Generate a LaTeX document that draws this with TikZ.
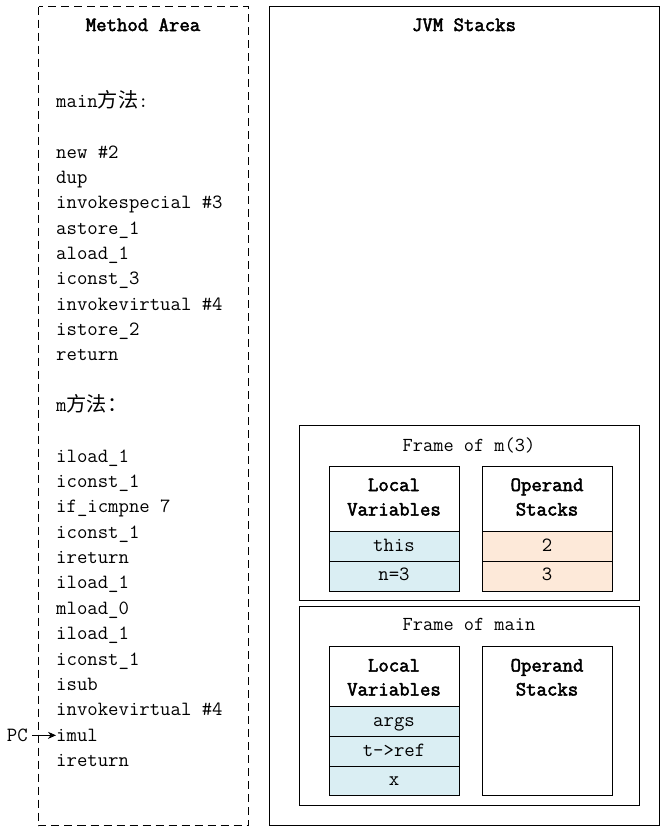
\documentclass[tikz,border=0pt]{standalone}
\usepackage{fontspec}
\setmainfont{Latin Modern Mono}[AutoFakeBold=2.5]
\newfontfamily\cjk{Noto Sans CJK SC}
\usetikzlibrary{arrows.meta}
\definecolor{lvblue}{HTML}{DAEEF3}
\definecolor{oporange}{HTML}{FDE9D9}
\tikzset{
  code/.style={anchor=base west, inner sep=0pt, font=\fontsize{20.2}{24}\selectfont},
  ttl/.style={anchor=base, inner sep=0pt, font=\fontsize{20.2}{24}\selectfont\bfseries},
  ftitle/.style={anchor=base, inner sep=0pt, font=\fontsize{19.8}{24}\selectfont},
  cell/.style={anchor=base, inner sep=0pt, font=\fontsize{20.2}{24}\selectfont},
  hdr/.style={anchor=base, inner sep=0pt, font=\fontsize{20.2}{24}\selectfont\bfseries},
  box/.style={draw=black, line width=1pt},
  arr/.style={-{Stealth[length=8pt,width=7pt]}, line width=0.9pt},
}
\begin{document}
\begin{tikzpicture}[x=1pt,y=-1pt]
\useasboundingbox (0,0) rectangle (666,831);
% outer boxes
\draw[box, dash pattern=on 8pt off 5pt] (38.5,6.5) rectangle (248.5,825.5);
\draw[box] (269,6.5) rectangle (659,825.5);
\node[ttl] (mtitle) at (143,31) {Method Area};
\node[ttl] (jtitle) at (464,31) {JVM Stacks};
% code listing
\foreach \i/\t in {0/{main{\cjk 方法}:}, 2/{new \#2}, 3/{dup}, 4/{invokespecial \#3},
  5/{astore\_1}, 6/{aload\_1}, 7/{iconst\_3}, 8/{invokevirtual \#4}, 9/{istore\_2},
  10/{return}, 12/{m{\cjk 方法：}}, 14/{iload\_1}, 15/{iconst\_1}, 16/{if\_icmpne 7},
  17/{iconst\_1}, 18/{ireturn}, 19/{iload\_1}, 20/{mload\_0}, 21/{iload\_1},
  22/{iconst\_1}, 23/{isub}, 24/{invokevirtual \#4}, 25/{imul}, 26/{ireturn}}
  \node[code] (L\i) at (56,{107.3+25.35*\i}) {\t};
% PC pointer
\node[code, anchor=base east] (pc) at (28,741.5) {PC};
\draw[arr, shorten <=4pt] (pc.east) -- (pc.east -| L25.west);
% Frame of m(3)
\draw[box] (299,425) rectangle (639,600);
\node[ftitle] (f1title) at (469,451) {Frame of m(3)};
\draw[box] (329,466) rectangle (459,531);
\draw[box, fill=lvblue] (329,531) rectangle (459,561);
\draw[box, fill=lvblue] (329,561) rectangle (459,591);
\draw[box] (482,466) rectangle (612,531);
\draw[box, fill=oporange] (482,531) rectangle (612,561);
\draw[box, fill=oporange] (482,561) rectangle (612,591);
\node[hdr] (f1lv1) at (394,491) {Local};
\node[hdr] (f1lv2) at (394,515.5) {Variables};
\node[hdr] (f1os1) at (547,491) {Operand};
\node[hdr] (f1os2) at (547,515.5) {Stacks};
\node[cell] (f1this) at (394,551) {this};
\node[cell] (f1n) at (394,580.5) {n=3};
\node[cell] (f1two) at (547,551) {2};
\node[cell] (f1three) at (547,580.5) {3};
% Frame of main
\draw[box] (299,606) rectangle (639,805);
\node[ftitle] (f2title) at (469,630.7) {Frame of main};
\draw[box] (329,646) rectangle (459,706);
\draw[box, fill=lvblue] (329,706) rectangle (459,736);
\draw[box, fill=lvblue] (329,736) rectangle (459,766);
\draw[box, fill=lvblue] (329,766) rectangle (459,795);
\draw[box] (482,646) rectangle (612,795);
\node[hdr] (f2lv1) at (394,671.5) {Local};
\node[hdr] (f2lv2) at (394,695.5) {Variables};
\node[hdr] (f2os1) at (547,671.5) {Operand};
\node[hdr] (f2os2) at (547,695.5) {Stacks};
\node[cell] (f2args) at (394,726) {args};
\node[cell] (f2t) at (394,756) {t->ref};
\node[cell] (f2x) at (394,785.5) {x};
\end{tikzpicture}
\end{document}
